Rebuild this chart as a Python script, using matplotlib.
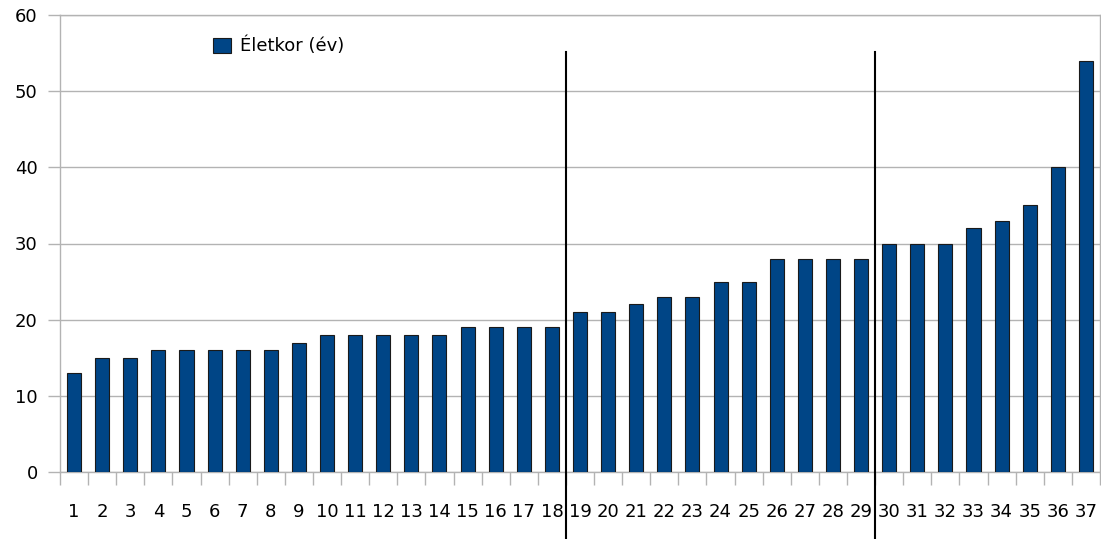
import numpy as np
import matplotlib.pyplot as plt
from matplotlib.patches import Patch

# Életkor adatok (év)
labels = [str(i) for i in range(1, 38)]
ages = [13, 15, 15, 16, 16, 16, 16, 16, 17, 18, 18, 18, 18, 18, 19, 19, 19, 19,
        21, 21, 22, 23, 23, 25, 25, 28, 28, 28, 28,
        30, 30, 30, 32, 33, 35, 40, 54]
separators = [18, 29]
series_name = "Életkor (év)"

plt.rcParams['font.family'] = ['DejaVu Sans']
font_size = 13

fig = plt.figure(figsize=(11.01, 5.39), dpi=100)
ax = fig.add_axes([60 / 1101, (539 - 472) / 539, 1040 / 1101, (472 - 15) / 539])

x = np.arange(len(ages))
ax.bar(x, ages, width=0.5, color='#004586', edgecolor='#1a1a1a', linewidth=0.8, zorder=3)

ax.set_xlim(-0.5, len(ages) - 0.5)
ax.set_ylim(0, 60)
ax.set_yticks(range(0, 61, 10))
ax.grid(axis='y', color='#b3b3b3', linewidth=1, zorder=0)

# osztásjelek a kategóriák határán, feliratok középen
ax.set_xticks(np.arange(-0.5, len(ages), 1))
ax.set_xticklabels([])
ax.set_xticks(x, minor=True)
ax.set_xticklabels(labels, minor=True)
ax.tick_params(axis='x', which='major', length=9, color='#b3b3b3', width=1)
ax.tick_params(axis='x', which='minor', length=0, pad=22, labelsize=font_size)
ax.tick_params(axis='y', length=9, color='#b3b3b3', width=1, pad=7, labelsize=font_size)

for s in ax.spines.values():
    s.set_color('#b3b3b3')
    s.set_linewidth(1)

# elválasztó vonalak
for sep in separators:
    ax.plot([sep - 0.5, sep - 0.5], [55.1, -10], color='black', linewidth=1.5,
            clip_on=False, zorder=5)

handle = Patch(facecolor='#004586', edgecolor='#1a1a1a', linewidth=0.8)
fig.legend([handle], [series_name], loc='center left',
           bbox_to_anchor=(197 / 1101, 1 - 46 / 539), frameon=False,
           handlelength=1.0, handleheight=0.9, handletextpad=0.5,
           fontsize=font_size)

plt.savefig('out.png', dpi=100)
